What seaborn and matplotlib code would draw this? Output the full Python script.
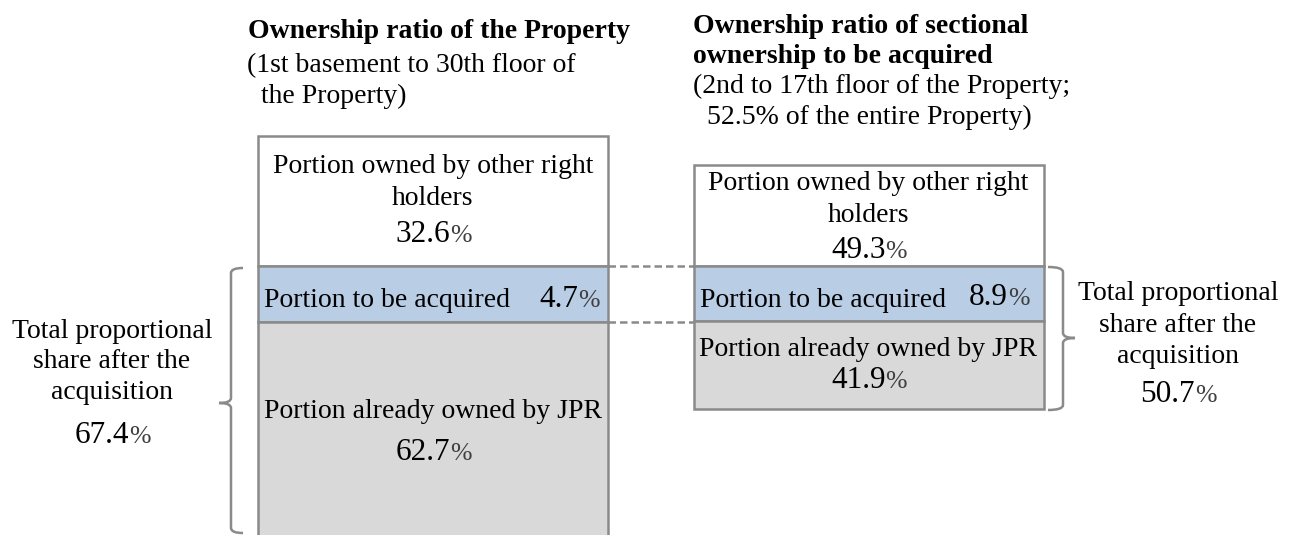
import numpy as np
import pandas as pd
import matplotlib.pyplot as plt
import seaborn as sns
from matplotlib.path import Path
from matplotlib.patches import PathPatch

# values shown in the chart
bar_names = ['Property', 'Sectional ownership']
other_pct = ['32.6', '49.3']
acquire_pct = ['4.7', '8.9']
owned_pct = ['62.7', '41.9']
total_pct = ['67.4', '50.7']

titles = [['Ownership ratio of the Property'],
          ['Ownership ratio of sectional', 'ownership to be acquired']]
subtitles = [['(1st basement to 30th floor of', '  the Property)'],
             ['(2nd to 17th floor of the Property;', '  52.5% of the entire Property)']]
other_label = ['Portion owned by other right', 'holders']
acquire_label = 'Portion to be acquired'
owned_label = 'Portion already owned by JPR'
bracket_label = ['Total proportional', 'share after the', 'acquisition']

# schematic layout (pixels, the boxes are not drawn to scale)
centers = [433, 868.5]
bar_w = 350
box_top = [136, 165]
other_h = [130, 101]
acquire_h = [56, 55]
owned_h = [225, 88]

sns.set_theme(style='white')
plt.rcParams['font.family'] = ['Liberation Serif', 'DejaVu Serif']
plt.rcParams['text.color'] = 'black'

fig = plt.figure(figsize=(12.95, 5.35), dpi=100)
ax = fig.add_axes([0, 0, 1, 1])

edge = '#8a8a8a'
tops_acq = [t + h for t, h in zip(box_top, other_h)]
tops_own = [t + h for t, h in zip(tops_acq, acquire_h)]
layers = [(other_h, box_top, 'white'),
          (acquire_h, tops_acq, '#b9cde5'),
          (owned_h, tops_own, '#d9d9d9')]
for heights, bottoms, col in layers:
    df = pd.DataFrame({'x': centers, 'h': heights})
    sns.barplot(data=df, x='x', y='h', bottom=bottoms, native_scale=True,
                orient='x', width=bar_w / (centers[1] - centers[0]),
                color=col, saturation=1, edgecolor=edge, linewidth=1.8,
                errorbar=None, ax=ax)

BODY = 20
NUM = 22.5
PCT = 18.5


def pct(x_right, y, num):
    ax.text(x_right, y, num, fontsize=NUM, ha='right', va='baseline', color='black')
    ax.text(x_right, y, '%', fontsize=PCT, ha='left', va='baseline', color='#404040')


def lines(x, y0, rows, step, **kw):
    for i, r in enumerate(rows):
        ax.text(x, y0 + i * step, r, va='baseline', color='black', **kw)


# titles
lines(248, 38, titles[0], 31, fontsize=BODY, fontweight='bold', ha='left')
lines(247, 72, subtitles[0], 31, fontsize=BODY, ha='left')
lines(693, 33, titles[1], 30, fontsize=BODY, fontweight='bold', ha='left')
lines(693, 93, subtitles[1], 31, fontsize=BODY, ha='left')

# box texts
other_y = [173, 190]
other_p = [242, 258]
owned_y = [418, 356]
owned_p = [460, 388]
for i in range(2):
    cx = centers[i]
    lines(cx, other_y[i], other_label, 32, fontsize=BODY, ha='center')
    pct(cx + 17, other_p[i], other_pct[i])
    ax.text(cx - bar_w / 2 + 6, tops_acq[i] + 41, acquire_label,
            fontsize=BODY, ha='left', va='baseline', color='black')
    ax.text(cx, owned_y[i], owned_label, fontsize=BODY, ha='center', va='baseline',
            color='black')
    pct(cx + 17, owned_p[i], owned_pct[i])
pct(578, tops_acq[0] + 41, acquire_pct[0])
pct(1008, tops_acq[1] + 39, acquire_pct[1])

# dashed connectors between the two bars
x0 = centers[0] + bar_w / 2
x1 = centers[1] - bar_w / 2
for y in [tops_acq[0], tops_own[0]]:
    ax.plot([x0, x1], [y, y], color=edge, lw=1.8, ls=(0, (3, 1.6)))


def brace(x_hook, x_line, x_tip, y_top, y_mid, y_bot, r=5):
    verts = [(x_hook, y_top), (x_line, y_top), (x_line, y_top + r),
             (x_line, y_mid - r), (x_line, y_mid), (x_tip, y_mid),
             (x_line, y_mid), (x_line, y_mid + r),
             (x_line, y_bot - r), (x_line, y_bot), (x_hook, y_bot)]
    codes = [Path.MOVETO, Path.CURVE3, Path.CURVE3,
             Path.LINETO, Path.CURVE3, Path.CURVE3,
             Path.CURVE3, Path.CURVE3,
             Path.LINETO, Path.CURVE3, Path.CURVE3]
    ax.add_patch(PathPatch(Path(verts, codes), fill=False, edgecolor=edge, lw=1.8))


brace(243, 231, 219, 268, 403, 533)
brace(1048, 1063, 1075, 267, 338, 410)

lines(112, 338, bracket_label, 30.5, fontsize=BODY, ha='center')
pct(129, 443, total_pct[0])
lines(1178, 300, bracket_label, 31.5, fontsize=BODY, ha='center')
pct(1195, 402, total_pct[1])

ax.set_xlim(0, 1295)
ax.set_ylim(535, 0)
ax.axis('off')
fig.savefig('out.png', dpi=100)
